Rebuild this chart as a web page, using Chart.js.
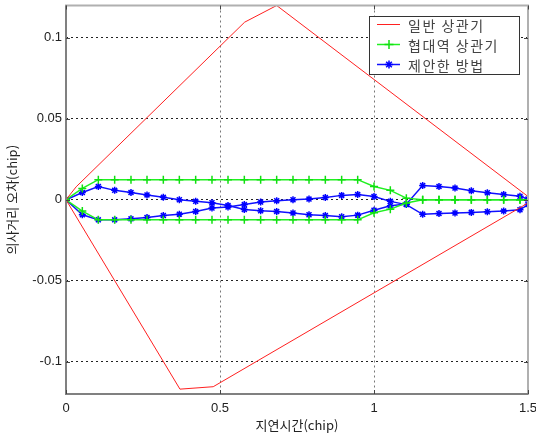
<!DOCTYPE html>
<html>
<head>
<meta charset="utf-8">
<script src="https://cdn.jsdelivr.net/npm/chart.js@4"></script>
<style>
  body { margin: 0; background: #fff; }
  #wrap { width: 536px; height: 439px; }
</style>
</head>
<body>
<div id="wrap"><canvas id="chart" width="536" height="439"></canvas></div>
<script>
// delay axis samples (chip)
const delayX = [0, 0.053, 0.105, 0.158, 0.211, 0.263, 0.316, 0.368, 0.421, 0.474,
  0.526, 0.579, 0.632, 0.684, 0.737, 0.789, 0.842, 0.895, 0.947, 1.0,
  1.053, 1.105, 1.158, 1.211, 1.263, 1.316, 1.368, 1.421, 1.474, 1.5];

// 일반 상관기 (upper / lower branch)
const convUpperX = [0, 0.033, 0.58, 0.684, 1.5];
const convUpperY = [0, 0.008, 0.1097, 0.12, 0.002];
const convLowerX = [0, 0.37, 0.478, 1.5];
const convLowerY = [0, -0.117, -0.1155, -0.002];

// 협대역 상관기
const narrowUpper = [0, 0.007, 0.0124, 0.0124, 0.0124, 0.0124, 0.0124, 0.0124, 0.0124, 0.0124,
  0.0124, 0.0124, 0.0124, 0.0124, 0.0124, 0.0124, 0.0124, 0.0124, 0.0124, 0.0082,
  0.0058, 0.001, 0, 0, 0, 0, 0, 0, 0, 0];
const narrowLower = [0, -0.007, -0.0124, -0.0124, -0.0124, -0.0124, -0.0124, -0.0124, -0.0124, -0.0124,
  -0.0124, -0.0124, -0.0124, -0.0124, -0.0124, -0.0124, -0.0124, -0.0124, -0.0124, -0.008,
  -0.0058, -0.002, 0, 0, 0, 0, 0, 0, 0, 0];

// 제안한 방법
const proposedA = [0, 0.0045, 0.0082, 0.0058, 0.0045, 0.003, 0.0015, 0, -0.001, -0.0018,
  -0.0035, -0.006, -0.0068, -0.0072, -0.0082, -0.0093, -0.0097, -0.0105, -0.0095, -0.0065,
  -0.0037, -0.0027, 0.0088, 0.0082, 0.0072, 0.0055, 0.0043, 0.0032, 0.0022, 0.0005];
const proposedB = [0, -0.0093, -0.0124, -0.0124, -0.0118, -0.011, -0.0097, -0.0089, -0.0072, -0.0051,
  -0.0045, -0.003, -0.0014, -0.0006, 0, 0.0004, 0.0014, 0.0027, 0.0033, 0.002,
  -0.001, -0.003, -0.009, -0.0085, -0.0082, -0.0078, -0.0074, -0.007, -0.0062, -0.003];

const xTicks = [0, 0.5, 1, 1.5];
const yTicks = [-0.1, -0.05, 0, 0.05, 0.1];

function pts(xs, ys) {
  return xs.map((x, i) => ({ x: x, y: ys[i] }));
}

const red = { borderColor: '#ff2020', borderWidth: 1, pointRadius: 0 };
const green = { borderColor: '#20f020', borderWidth: 1.5, pointStyle: 'cross', pointRadius: 4,
  pointBorderWidth: 1.5, pointBorderColor: '#10e010' };
const blue = { borderColor: '#1010ff', borderWidth: 1.5, pointStyle: 'star', pointRadius: 3.5,
  pointBorderWidth: 1.5, pointBorderColor: '#0000ff' };

const datasets = [
  Object.assign({ label: '일반 상관기', data: pts(convUpperX, convUpperY) }, red),
  Object.assign({ label: '일반 상관기', data: pts(convLowerX, convLowerY), hideInLegend: true }, red),
  Object.assign({ label: '협대역 상관기', data: pts(delayX, narrowUpper) }, green),
  Object.assign({ label: '협대역 상관기', data: pts(delayX, narrowLower), hideInLegend: true }, green),
  Object.assign({ label: '제안한 방법', data: pts(delayX, proposedA) }, blue),
  Object.assign({ label: '제안한 방법', data: pts(delayX, proposedB), hideInLegend: true }, blue)
];

// frame, inner ticks and boxed legend, matlab style
const framePlugin = {
  id: 'frame',
  afterDraw(chart) {
    const ctx = chart.ctx;
    const a = chart.chartArea;
    const xs = chart.scales.x, ys = chart.scales.y;
    ctx.save();
    ctx.lineWidth = 2;
    ctx.strokeStyle = '#b0b0b0';
    ctx.strokeRect(a.left, a.top, a.right - a.left, a.bottom - a.top);
    ctx.strokeStyle = '#808080';
    ctx.beginPath();
    ctx.moveTo(a.left, a.top);
    ctx.lineTo(a.left, a.bottom);
    ctx.lineTo(a.right, a.bottom);
    ctx.stroke();

    ctx.lineWidth = 1;
    ctx.strokeStyle = '#444';
    ctx.beginPath();
    yTicks.forEach(v => {
      const py = Math.round(ys.getPixelForValue(v)) + 0.5;
      ctx.moveTo(a.left, py); ctx.lineTo(a.left + 4, py);
      ctx.moveTo(a.right, py); ctx.lineTo(a.right - 4, py);
    });
    xTicks.forEach(v => {
      const px = Math.round(xs.getPixelForValue(v)) + 0.5;
      ctx.moveTo(px, a.bottom); ctx.lineTo(px, a.bottom - 4);
      ctx.moveTo(px, a.top); ctx.lineTo(px, a.top + 4);
    });
    ctx.stroke();

    // legend
    const bx = Math.round(a.right) - 159, by = Math.round(a.top) + 10, bw = 150, bh = 58;
    ctx.fillStyle = '#fff';
    ctx.fillRect(bx, by, bw, bh);
    ctx.lineWidth = 1;
    ctx.strokeStyle = '#333';
    ctx.strokeRect(bx + 0.5, by + 0.5, bw, bh);
    const items = chart.data.datasets.filter(d => !d.hideInLegend);
    ctx.font = '14px "Noto Sans CJK KR", "Noto Sans", sans-serif';
    ctx.letterSpacing = '1.5px';
    ctx.textBaseline = 'middle';
    items.forEach((d, i) => {
      const y = by + 8.5 + i * 20;
      ctx.strokeStyle = d.borderColor;
      ctx.lineWidth = d.borderWidth;
      ctx.beginPath();
      ctx.moveTo(bx + 8, y);
      ctx.lineTo(bx + 31, y);
      ctx.stroke();
      if (d.pointRadius > 0) {
        ctx.strokeStyle = d.pointBorderColor;
        ctx.lineWidth = d.pointBorderWidth;
        Chart.helpers.drawPoint(ctx, {
          pointStyle: d.pointStyle, radius: d.pointRadius + 0.5, rotation: 0, borderWidth: d.pointBorderWidth
        }, bx + 20, y);
      }
      ctx.fillStyle = '#444';
      ctx.fillText(d.label, bx + 39, y + 1);
    });
    ctx.restore();
  }
};

new Chart(document.getElementById('chart'), {
  type: 'line',
  data: { datasets: datasets },
  options: {
    responsive: false,
    animation: false,
    devicePixelRatio: 1,
    layout: { padding: { top: 5, right: 8, left: 0, bottom: 0 } },
    plugins: { legend: { display: false }, tooltip: { enabled: false } },
    elements: { line: { tension: 0 } },
    scales: {
      x: {
        type: 'linear',
        min: 0,
        max: 1.5,
        afterFit: s => { s.height = 45; s.paddingLeft = 0; s.paddingRight = 0; },
        afterBuildTicks: s => { s.ticks = xTicks.map(v => ({ value: v })); },
        grid: { color: '#777', lineWidth: 1, drawTicks: false },
        border: { display: false, dash: [2, 3] },
        ticks: {
          padding: 7,
          color: '#222',
          font: { family: '"Liberation Sans", Arial, sans-serif', size: 13 },
          callback: v => String(+v.toFixed(2))
        },
        title: {
          display: true,
          text: '지연시간(chip)',
          color: '#222',
          font: { family: '"Noto Sans CJK KR", sans-serif', size: 13 },
          padding: { top: 0, bottom: 6 }
        }
      },
      y: {
        type: 'linear',
        min: -0.12,
        max: 0.12,
        afterFit: s => { s.width = 66; s.paddingTop = 0; s.paddingBottom = 0; },
        afterBuildTicks: s => { s.ticks = yTicks.map(v => ({ value: v })); },
        grid: { color: '#222', lineWidth: 1, drawTicks: false },
        border: { display: false, dash: [2, 3] },
        ticks: {
          padding: 4,
          color: '#222',
          font: { family: '"Liberation Sans", Arial, sans-serif', size: 13 },
          callback: v => String(+v.toFixed(2))
        },
        title: {
          display: true,
          text: '의사거리 오차(chip)',
          color: '#222',
          font: { family: '"Noto Sans CJK KR", sans-serif', size: 13 },
          padding: { top: 4, bottom: 0 }
        }
      }
    }
  },
  plugins: [framePlugin]
});
</script>
</body>
</html>
